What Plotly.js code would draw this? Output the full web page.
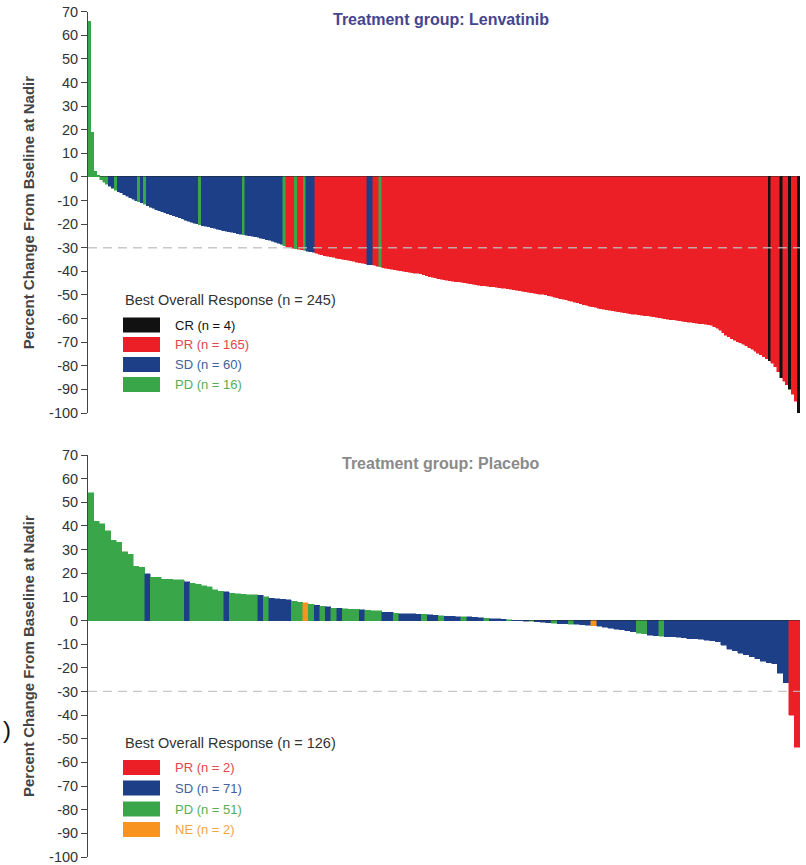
<!DOCTYPE html>
<html>
<head>
<meta charset="utf-8">
<script src="https://cdn.plot.ly/plotly-3.0.1.min.js"></script>
<style>html,body{margin:0;padding:0;background:#fff;}#chart{width:806px;height:865px;}
#chart .bars path{shape-rendering:crispEdges;}</style>
</head>
<body>
<div id="chart"></div>
<script>
// ---------- DATA ----------
// Lenvatinib: percent change from baseline at nadir (245 patients, sorted)
const lenvValues = [
 66, 19, 2.5, 0.8, -1.2, -2.2, -3, -4, -4.8, -5.6,
 -6.2, -6.8, -7.5, -8.2, -8.8, -9.5, -10, -10.6, -11, -11.5,
 -12.2, -12.8, -13.3, -13.8, -14.3, -14.8, -15.2, -15.6, -16, -16.4,
 -16.8, -17.2, -17.8, -18.3, -18.8, -19.2, -19.6, -19.9, -20.3, -20.6,
 -20.9, -21.2, -21.5, -21.8, -22.1, -22.4, -22.7, -23, -23.2, -23.4,
 -23.7, -24, -24.2, -24.5, -24.8, -25, -25.2, -25.4, -25.6, -25.9,
 -26.1, -26.5, -26.9, -27.3, -27.7, -28.1, -28.6, -29.1, -29.7, -30.1,
 -30.3, -30.5, -30.7, -30.9, -31.1, -31.4, -31.7, -32, -32.4, -32.7,
 -33, -33.3, -33.6, -33.9, -34.1, -34.4, -34.6, -34.8, -35.1, -35.3,
 -35.6, -35.8, -36.1, -36.3, -36.6, -36.8, -37.1, -37.3, -37.5, -37.8,
 -38.1, -38.4, -38.6, -38.9, -39.1, -39.3, -39.5, -39.7, -39.9, -40.1,
 -40.3, -40.5, -40.7, -40.9, -41.1, -41.5, -41.9, -42.2, -42.5, -42.8,
 -43.1, -43.3, -43.5, -43.7, -43.9, -44.1, -44.3, -44.5, -44.7, -44.9,
 -45.1, -45.3, -45.5, -45.7, -45.9, -46, -46.2, -46.3, -46.5, -46.6,
 -46.8, -46.9, -47.1, -47.2, -47.4, -47.6, -47.8, -48, -48.2, -48.4,
 -48.6, -48.8, -49, -49.2, -49.4, -49.6, -49.8, -50, -50.3, -50.6,
 -50.9, -51.2, -51.5, -51.8, -52.1, -52.4, -52.7, -53, -53.4, -53.8,
 -54.1, -54.4, -54.7, -55, -55.3, -55.6, -55.8, -56, -56.2, -56.5,
 -56.7, -56.9, -57.1, -57.3, -57.5, -57.7, -57.9, -58.1, -58.2, -58.4,
 -58.5, -58.7, -58.8, -59, -59.2, -59.4, -59.6, -59.8, -60, -60.2,
 -60.4, -60.6, -60.8, -61, -61.2, -61.4, -61.5, -61.6, -61.8, -61.9,
 -62.1, -62.2, -62.4, -62.6, -62.9, -63.5, -64.2, -65, -66, -67,
 -67.8, -68.5, -69.2, -69.8, -70.3, -70.8, -71.5, -72.3, -73, -73.8,
 -74.6, -75.4, -76.2, -77, -77.8, -79, -80.5, -82.5, -85, -86.5,
 -88, -90, -92, -95, -100
];
// Lenvatinib best overall response (bar positions); every other bar is PR
const lenvCR = [234, 238, 241, 244];
const lenvSD = [7, 8, 10, 11, 12, 13, 14, 15, 16, 18,
 20, 21, 22, 23, 24, 25, 26, 27, 28, 29, 30, 31, 32, 33, 34, 35, 36, 37,
 39, 40, 41, 42, 43, 44, 45, 46, 47, 48, 49, 50, 51, 52,
 54, 55, 56, 57, 58, 59, 60, 61, 62, 63, 64, 65, 66,
 75, 76, 77, 96, 97];
const lenvPD = [0, 1, 2, 3, 4, 5, 6, 9, 17, 19, 38, 53, 67, 71, 74, 100];

// Placebo: percent change from baseline at nadir (126 patients, sorted)
const placValues = [
 54, 42, 41, 38, 34, 33, 29, 28, 23, 22.5,
 19.8, 18.4, 18.2, 17.5, 17.4, 17.3, 17.2, 16.4, 15.8, 15.4,
 14.8, 14.2, 13, 12.3, 12.1, 11.6, 11.3, 11.1, 11, 10.8,
 10.6, 10, 9.4, 9.2, 8.9, 8.8, 8.1, 7.7, 7.6, 6.8,
 6.4, 6, 5.9, 5.3, 5.2, 4.9, 4.8, 4.8, 4.5, 4.3,
 4.2, 4.1, 3.6, 3.5, 3.1, 2.9, 2.8, 2.8, 2.7, 2.6,
 2.4, 2.3, 2.1, 1.9, 1.8, 1.7, 1.6, 1.5, 1.3, 1.2,
 1, 0.8, 0.7, 0.5, 0.4, 0.2, 0.1, -0.2, -0.4, -0.6,
 -0.8, -1, -1.2, -1.3, -1.4, -1.5, -1.6, -1.7, -1.9, -2.2,
 -2.5, -2.8, -3.2, -3.6, -4, -4.4, -4.8, -5.3, -5.5, -6.3,
 -6.5, -6.7, -6.8, -6.9, -7, -7.3, -7.6, -7.8, -8, -8.3,
 -8.6, -9, -10.5, -12.2, -12.8, -13.8, -14.5, -15.3, -16.2, -17.2,
 -17.8, -18.2, -22.3, -26.3, -40, -53.5
];
// Placebo best overall response (bar positions); every other bar is SD
const placPR = [124, 125];
const placPD = [0, 1, 2, 3, 4, 5, 6, 7, 8, 9,
 11, 12, 13, 14, 15, 16, 18, 19, 20, 21, 22, 23, 25, 26, 27, 28, 29,
 31, 36, 37, 39, 41, 43, 45, 46, 47, 49, 50, 51, 54, 59, 62,
 66, 70, 74, 78, 82, 85, 97, 98, 101];
const placNE = [38, 89];

// Y-axis ticks
const tickVals = [70, 60, 50, 40, 30, 20, 10, 0, -10, -20, -30, -40, -50, -60, -70, -80, -90, -100];
const tickText = ['70', '60', '50', '40', '30', '20', '10', '0', '-10', '-20', '-30', '-40', '-50', '-60', '-70', '-80', '-90', '-100'];

// ---------- STYLE ----------
const COLORS = {CR: '#111111', PR: '#ec1f26', SD: '#1c3f87', PD: '#3aa64a', NE: '#f7931e'};
const TEXTCOL = {CR: '#111111', PR: '#e2474a', SD: '#40609e', PD: '#56ad55', NE: '#f2a447'};
const FONT = 'Liberation Sans, Arial, sans-serif';
const H = 865, L = 88, PW = 712;
const yp = p => 1 - p / H;
const xp = p => (p - L) / PW;

function buildColors(n, def, groups) {
  const c = new Array(n).fill(COLORS[def]);
  Object.keys(groups).forEach(k => groups[k].forEach(i => { c[i] = COLORS[k]; }));
  return c;
}
const lenvColors = buildColors(lenvValues.length, 'PR', {SD: lenvSD, PD: lenvPD, CR: lenvCR});
const placColors = buildColors(placValues.length, 'SD', {PD: placPD, PR: placPR, NE: placNE});

const lenvCounts = {
  CR: lenvCR.length, SD: lenvSD.length, PD: lenvPD.length,
  PR: lenvValues.length - lenvCR.length - lenvSD.length - lenvPD.length
};
const placCounts = {
  PR: placPR.length, PD: placPD.length, NE: placNE.length,
  SD: placValues.length - placPR.length - placPD.length - placNE.length
};

const traces = [
  {type: 'bar', x: lenvValues.map((v, i) => i), y: lenvValues, xaxis: 'x', yaxis: 'y',
   marker: {color: lenvColors, line: {color: lenvColors, width: 0.5}}, width: 1, hoverinfo: 'y', showlegend: false},
  {type: 'bar', x: placValues.map((v, i) => i), y: placValues, xaxis: 'x2', yaxis: 'y2',
   marker: {color: placColors, line: {color: placColors, width: 0.5}}, width: 1, hoverinfo: 'y', showlegend: false}
];

const yaxisBase = {
  range: [-100, 70], tickvals: tickVals, ticktext: tickText, ticks: 'outside', ticklen: 6,
  tickcolor: '#444', tickwidth: 1, showline: true, linecolor: '#444', linewidth: 1,
  showgrid: false, zeroline: true, zerolinecolor: '#222', zerolinewidth: 1,
  ticklabeloverflow: 'allow',
  tickfont: {family: FONT, size: 14.5, color: '#333'}, fixedrange: true
};
const xaxisBase = {showgrid: false, zeroline: false, showline: false, showticklabels: false, ticks: '', fixedrange: true};

const annotations = [];
const shapes = [];

function addPanel(yref, title, titleColor, titleY, axisTitle, panelTop, panelBot, legendTitleY, rows, counts, total) {
  annotations.push({xref: 'paper', yref: 'paper', x: xp(441), y: yp(titleY), xanchor: 'center', yanchor: 'middle',
    text: '<b>' + title + '</b>', showarrow: false, font: {family: FONT, size: 16, color: titleColor}});
  annotations.push({xref: 'paper', yref: 'paper', x: xp(28), y: yp((panelTop + panelBot) / 2), xanchor: 'center', yanchor: 'middle',
    textangle: -90, text: '<b>' + axisTitle + '</b>', showarrow: false, font: {family: FONT, size: 15, color: '#444'}});
  shapes.push({type: 'line', xref: (yref === 'y' ? 'x' : 'x2') + ' domain', x0: 0, x1: 1, yref: yref, y0: -30, y1: -30,
    line: {color: 'rgba(190,190,190,0.85)', width: 1.3, dash: '9px,6px'}, layer: 'above'});
  annotations.push({xref: 'paper', yref: 'paper', x: xp(123), y: yp(legendTitleY), xanchor: 'left', yanchor: 'middle',
    text: 'Best Overall Response (n = ' + total + ')', showarrow: false, font: {family: FONT, size: 14.5, color: '#333'}});
  rows.forEach(r => {
    shapes.push({type: 'rect', xref: 'paper', yref: 'paper', x0: xp(123), x1: xp(160), y0: yp(r.cy + 7.5), y1: yp(r.cy - 7.5),
      fillcolor: COLORS[r.k], line: {width: 0}, layer: 'above'});
    annotations.push({xref: 'paper', yref: 'paper', x: xp(173), y: yp(r.cy), xanchor: 'left', yanchor: 'middle',
      text: r.k + ' (n = ' + counts[r.k] + ')', showarrow: false, font: {family: FONT, size: 13, color: TEXTCOL[r.k]}});
  });
}

addPanel('y', 'Treatment group: Lenvatinib', '#45458f', 19, 'Percent Change From Bseline at Nadir', 11.7, 413, 300,
  [{k: 'CR', cy: 325}, {k: 'PR', cy: 344.5}, {k: 'SD', cy: 364.5}, {k: 'PD', cy: 384.5}], lenvCounts, lenvValues.length);
addPanel('y2', 'Treatment group: Placebo', '#8a8a8a', 463, 'Percent Change From Baseline at Nadir', 455, 857, 743,
  [{k: 'PR', cy: 767.5}, {k: 'SD', cy: 788}, {k: 'PD', cy: 809}, {k: 'NE', cy: 829.5}], placCounts, placValues.length);

annotations.push({xref: 'paper', yref: 'paper', x: xp(1), y: yp(729), xanchor: 'left', yanchor: 'middle',
  text: ')', showarrow: false, font: {family: FONT, size: 24, color: '#111'}});

const layout = {
  width: 806, height: 865, margin: {l: L, r: 6, t: 0, b: 0},
  paper_bgcolor: '#fff', plot_bgcolor: '#fff', bargap: 0, showlegend: false,
  xaxis: Object.assign({}, xaxisBase, {domain: [0, 1], range: [-0.5, lenvValues.length - 0.5], anchor: 'y'}),
  yaxis: Object.assign({}, yaxisBase, {domain: [yp(413), yp(11.7)], anchor: 'x'}),
  xaxis2: Object.assign({}, xaxisBase, {domain: [0, 1], range: [-0.5, placValues.length - 0.5], anchor: 'y2'}),
  yaxis2: Object.assign({}, yaxisBase, {domain: [yp(857), yp(455)], anchor: 'x2'}),
  annotations: annotations, shapes: shapes
};

Plotly.newPlot('chart', traces, layout, {displayModeBar: false, staticPlot: true});
</script>
</body>
</html>
